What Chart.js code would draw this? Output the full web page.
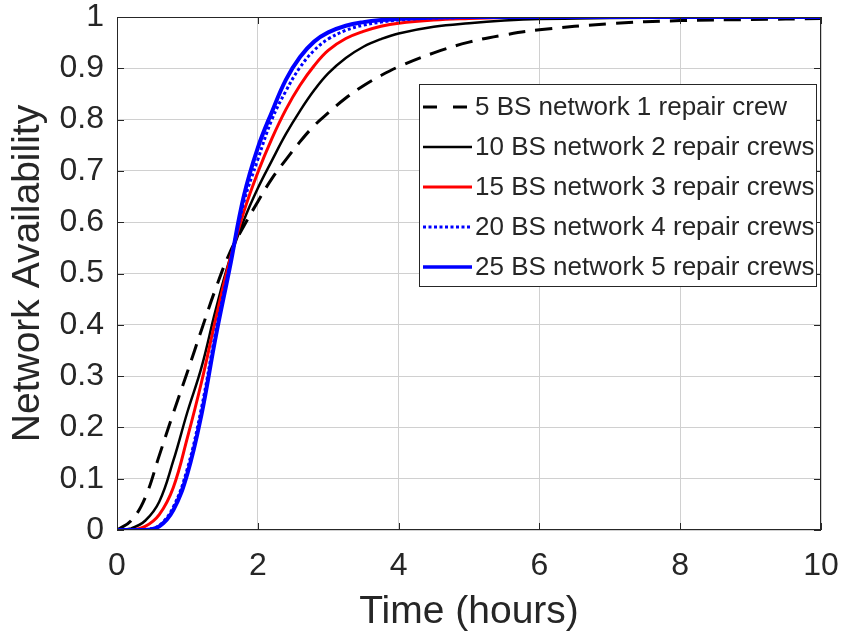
<!DOCTYPE html>
<html>
<head>
<meta charset="utf-8">
<title>Network Availability</title>
<script src="https://cdn.jsdelivr.net/npm/chart.js@4.4.1/dist/chart.umd.min.js"></script>
<style>
  html, body { margin: 0; padding: 0; background: #ffffff; }
  #wrap { width: 841px; height: 636px; }
</style>
</head>
<body>
<div id="wrap"><canvas id="availChart" width="841" height="636"></canvas></div>
<script>
// time axis (hours) shared by every curve
const times = [0, 0.2, 0.4, 0.6, 0.8, 1.0, 1.2, 1.4, 1.6, 1.8, 2.0, 2.2, 2.4, 2.6, 2.8,
               3.0, 3.25, 3.5, 3.75, 4.0, 4.5, 5.0, 5.5, 6.0, 7.0, 8.0, 9.0, 10.0];

// availability per network size
const bs5crew1 = [0, 0.018, 0.063, 0.145, 0.228, 0.308, 0.39, 0.47, 0.54, 0.592, 0.64, 0.685, 0.722, 0.757, 0.788,
                  0.813, 0.842, 0.866, 0.886, 0.903, 0.93, 0.951, 0.965, 0.975, 0.987, 0.993, 0.995, 0.997];
const bs10crew2 = [0, 0.003, 0.018, 0.055, 0.135, 0.23, 0.317, 0.428, 0.527, 0.603, 0.666, 0.72, 0.772, 0.817, 0.857,
                   0.89, 0.92, 0.942, 0.957, 0.968, 0.981, 0.988, 0.993, 0.996, 0.998, 0.999, 1, 1];
const bs15crew3 = [0, 0, 0.007, 0.03, 0.083, 0.18, 0.288, 0.41, 0.525, 0.62, 0.697, 0.763, 0.82, 0.867, 0.905,
                   0.935, 0.958, 0.972, 0.982, 0.988, 0.994, 0.997, 0.999, 1, 1, 1, 1, 1];
const bs20crew4 = [0, 0, 0.001, 0.009, 0.045, 0.12, 0.238, 0.385, 0.515, 0.638, 0.722, 0.8, 0.856, 0.902, 0.935,
                   0.957, 0.974, 0.984, 0.99, 0.994, 0.998, 0.999, 1, 1, 1, 1, 1, 1];
const bs25crew5 = [0, 0, 0, 0.007, 0.039, 0.11, 0.225, 0.375, 0.51, 0.65, 0.745, 0.815, 0.878, 0.922, 0.952,
                   0.97, 0.983, 0.99, 0.994, 0.996, 0.999, 1, 1, 1, 1, 1, 1, 1];

const seriesLabels = [
  '5 BS network 1 repair crew',
  '10 BS network 2 repair crews',
  '15 BS network 3 repair crews',
  '20 BS network 4 repair crews',
  '25 BS network 5 repair crews'
];

const xTickValues = [0, 2, 4, 6, 8, 10];
const yTickValues = [0, 0.1, 0.2, 0.3, 0.4, 0.5, 0.6, 0.7, 0.8, 0.9, 1];

const FONT = "'Liberation Sans', Arial, Helvetica, sans-serif";
const TEXT = '#262626';

const toPoints = (vals) => times.map((t, i) => ({ x: t, y: vals[i] }));

const makeSeries = (label, vals, color, width, dash, order) => ({
  label,
  data: toPoints(vals),
  borderColor: color,
  backgroundColor: color,
  borderWidth: width,
  borderDash: dash,
  borderCapStyle: 'butt',
  pointRadius: 0,
  fill: false,
  tension: 0.4,
  order
});

// box around the plot with inward tick marks
const axesFrame = {
  id: 'axesFrame',
  afterDatasetsDraw(chart) {
    const { ctx, chartArea: a, scales } = chart;
    const len = 7;
    ctx.save();
    ctx.strokeStyle = TEXT;
    ctx.lineWidth = 1;
    ctx.strokeRect(a.left + 0.5, a.top + 0.5, a.right - a.left - 1, a.bottom - a.top - 1);
    ctx.beginPath();
    xTickValues.forEach(v => {
      const px = Math.round(scales.x.getPixelForValue(v)) + 0.5;
      ctx.moveTo(px, a.bottom); ctx.lineTo(px, a.bottom - len);
      ctx.moveTo(px, a.top); ctx.lineTo(px, a.top + len);
    });
    yTickValues.forEach(v => {
      const py = Math.round(scales.y.getPixelForValue(v)) + 0.5;
      ctx.moveTo(a.left, py); ctx.lineTo(a.left + len, py);
      ctx.moveTo(a.right, py); ctx.lineTo(a.right - len, py);
    });
    ctx.stroke();
    ctx.restore();
  }
};

// legend drawn inside the plot, upper right
const insideLegend = {
  id: 'insideLegend',
  afterDraw(chart) {
    const { ctx, chartArea: a } = chart;
    const boxW = 397, boxH = 202;
    const x0 = a.right - 5 - boxW, y0 = a.top + 67;
    ctx.save();
    ctx.fillStyle = '#ffffff';
    ctx.fillRect(x0, y0, boxW, boxH);
    ctx.strokeStyle = TEXT;
    ctx.lineWidth = 1;
    ctx.strokeRect(x0 + 0.5, y0 + 0.5, boxW, boxH);
    ctx.font = '26px ' + FONT;
    ctx.textBaseline = 'middle';
    ctx.textAlign = 'left';
    chart.data.datasets.forEach((ds, i) => {
      const cy = y0 + 23 + i * 40;
      ctx.beginPath();
      ctx.strokeStyle = ds.borderColor;
      ctx.lineWidth = Math.min(ds.borderWidth, 3.5);
      ctx.setLineDash(ds.legendDash || ds.borderDash || []);
      ctx.moveTo(x0 + 4, cy);
      ctx.lineTo(x0 + 53, cy);
      ctx.stroke();
      ctx.setLineDash([]);
      ctx.fillStyle = TEXT;
      ctx.fillText(ds.label, x0 + 56, cy + 1);
    });
    ctx.restore();
  }
};

const datasets = [
  makeSeries(seriesLabels[0], bs5crew1, '#000000', 3, [17, 10], 4),
  makeSeries(seriesLabels[1], bs10crew2, '#000000', 2.5, [], 3),
  makeSeries(seriesLabels[2], bs15crew3, '#ff0000', 3, [], 2),
  makeSeries(seriesLabels[3], bs20crew4, '#0000ff', 3, [3, 2.5], 0),
  makeSeries(seriesLabels[4], bs25crew5, '#0000ff', 4, [], 1)
];
datasets[0].legendDash = [14, 16];

new Chart(document.getElementById('availChart'), {
  type: 'line',
  data: { datasets },
  options: {
    responsive: false,
    animation: false,
    layout: { padding: { left: 0, right: 20, top: 17, bottom: 0 } },
    plugins: {
      legend: { display: false },
      tooltip: { enabled: false }
    },
    scales: {
      x: {
        type: 'linear',
        min: 0,
        max: 10,
        afterBuildTicks: (scale) => { scale.ticks = xTickValues.map(v => ({ value: v })); },
        afterFit: (scale) => {
          scale.height = 106;
          scale.paddingLeft = 0;
          scale.paddingRight = 0;
        },
        grid: { color: '#d0d0d0', lineWidth: 1, drawTicks: false },
        border: { display: false },
        ticks: {
          color: TEXT,
          padding: 17,
          maxRotation: 0,
          font: { family: FONT, size: 32 },
          callback: (v) => String(v)
        },
        title: {
          display: true,
          text: 'Time (hours)',
          color: TEXT,
          padding: { top: 4, bottom: 0 },
          font: { family: FONT, size: 39 }
        }
      },
      y: {
        type: 'linear',
        min: 0,
        max: 1,
        afterBuildTicks: (scale) => { scale.ticks = yTickValues.map(v => ({ value: v })); },
        afterFit: (scale) => {
          scale.width = 117;
          scale.paddingTop = 0;
          scale.paddingBottom = 0;
        },
        grid: { color: '#d0d0d0', lineWidth: 1, drawTicks: false },
        border: { display: false },
        ticks: {
          color: TEXT,
          padding: 13,
          font: { family: FONT, size: 32 },
          callback: (v) => String(+v.toFixed(1))
        },
        title: {
          display: true,
          text: 'Network Availability',
          color: TEXT,
          padding: { top: 5, bottom: 0 },
          font: { family: FONT, size: 39 }
        }
      }
    }
  },
  plugins: [axesFrame, insideLegend]
});
</script>
</body>
</html>
